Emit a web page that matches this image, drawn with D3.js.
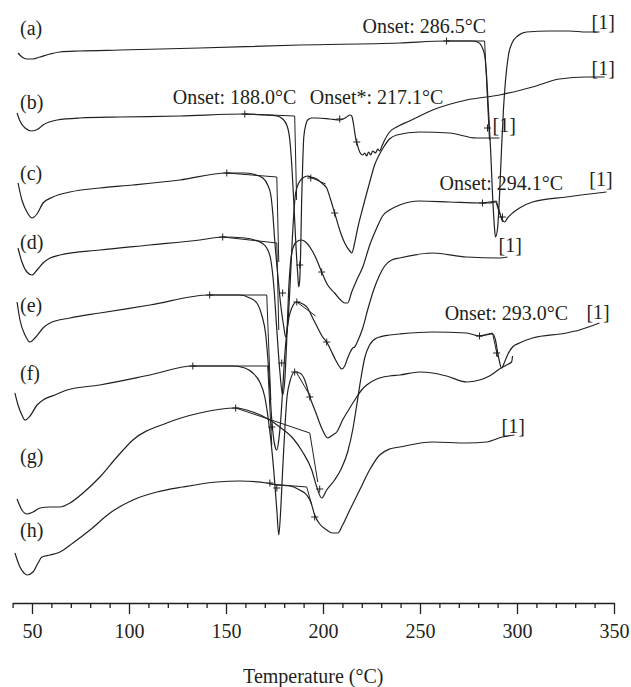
<!DOCTYPE html>
<html><head><meta charset="utf-8">
<script src="https://cdn.jsdelivr.net/npm/d3@7/dist/d3.min.js"></script>
<style>
body{margin:0;background:#fff}
svg{display:block}
text{font-family:"Liberation Serif","Times New Roman",serif;fill:#231f20}
</style>
</head><body>
<svg id="chart" width="631" height="687"></svg>
<script>
// ---- data: temperature (°C), heat flow (arbitrary, offset units) ----
const curveA = [[42.8,54.7],[44.8,54.3],[47.4,54.1],[50.5,54.1],[54.1,54.3],[59.3,54.6],[64.4,54.8],[74.7,54.9],[95.3,55.0],[136.5,55.2],[188.0,55.5],[239.5,55.7],[263.7,55.9],[277.1,55.9],[279.7,55.8],[281.7,55.4],[283.3,54.5],[284.3,52.5],[285.3,49.0],[286.4,45.0],[287.4,40.5],[288.4,37.2],[288.9,36.3],[290.0,37.2],[291.0,40.5],[292.0,45.0],[293.0,49.0],[294.1,52.0],[295.6,54.5],[297.7,55.8],[300.3,56.4],[304.9,56.8],[316.7,56.9],[327.0,56.9],[335.8,56.8],[342.5,56.8]];
const curveB = [[42.3,48.7],[43.8,47.9],[46.4,47.2],[50.0,46.9],[53.1,47.1],[55.7,47.5],[62.9,48.0],[74.7,48.2],[95.3,48.3],[126.2,48.4],[159.7,48.6],[170.0,48.5],[176.2,48.4],[179.2,48.1],[181.3,47.5],[182.9,46.0],[183.9,43.5],[184.9,40.0],[185.9,36.0],[187.0,32.5],[187.5,31.3],[188.0,32.0],[188.5,35.0],[189.0,40.0],[189.6,44.0],[190.1,46.3],[191.1,47.5],[192.1,48.0],[194.2,48.2],[196.8,48.2],[203.5,48.1],[208.6,48.0],[212.2,48.3],[213.8,48.5],[214.8,48.4],[215.8,47.5],[216.8,46.2],[217.9,45.4],[218.9,44.8],[220.5,44.5],[221.5,44.7],[222.5,44.4],[223.5,44.8],[224.6,44.5],[225.6,44.9],[227.1,44.7],[228.2,45.1],[229.2,44.9],[230.2,45.3],[231.8,46.0],[234.3,46.8],[238.0,47.3],[244.6,47.9],[256.5,49.0],[274.0,50.0],[291.0,50.5],[308.0,51.3],[321.9,52.1],[335.8,52.3],[345.1,52.3]];
const curveC = [[42.8,41.7],[44.8,40.0],[47.4,38.8],[50.0,38.2],[52.6,38.6],[55.7,39.7],[60.8,40.3],[69.6,40.8],[85.0,41.2],[102.0,41.5],[126.2,42.0],[150.4,42.7],[159.7,42.7],[163.8,42.6],[169.0,42.2],[171.5,41.5],[173.1,40.5],[174.1,38.7],[175.1,36.0],[176.7,32.5],[178.2,29.5],[179.8,27.3],[180.8,26.3],[181.8,27.5],[182.9,31.0],[183.9,35.0],[184.9,38.5],[185.9,40.7],[187.5,41.7],[189.6,42.2],[192.1,42.4],[193.7,42.3],[196.8,42.1],[199.3,41.7],[201.9,41.2],[204.0,40.0],[206.0,38.7],[208.6,37.0],[211.2,35.7],[213.8,34.9],[214.8,34.7],[216.3,35.7],[217.9,37.2],[220.5,39.2],[224.1,41.8],[226.6,43.5],[229.2,44.6],[231.3,45.3],[234.3,46.1],[238.0,46.5],[249.8,46.8],[265.2,46.7],[279.1,46.2],[291.0,46.2]];
const curveD = [[42.8,35.2],[44.8,33.8],[47.4,32.8],[50.0,32.5],[52.6,33.0],[55.7,33.7],[59.3,34.2],[64.4,34.5],[85.0,35.0],[110.8,35.5],[136.5,36.0],[148.3,36.3],[159.7,36.2],[164.8,36.0],[168.4,35.7],[171.0,35.2],[173.1,34.0],[174.6,31.5],[176.2,27.0],[177.7,23.0],[179.2,20.5],[180.3,22.0],[181.3,26.0],[182.3,31.0],[183.4,34.0],[184.9,35.4],[187.0,35.9],[189.0,36.0],[191.6,35.7],[194.2,35.0],[196.8,34.0],[199.3,32.8],[202.4,31.5],[206.0,30.7],[209.1,30.0],[211.2,29.7],[212.7,29.7],[214.8,30.8],[217.4,32.0],[220.5,33.3],[224.1,35.5],[227.7,37.2],[230.7,38.4],[234.3,39.0],[239.5,39.5],[249.8,39.9],[265.2,39.8],[282.2,39.7],[285.8,39.7],[288.9,39.8],[290.5,39.0],[292.0,38.2],[293.6,37.8],[295.1,38.2],[297.7,38.7],[301.3,39.2],[308.0,39.8],[325.5,40.3],[346.1,40.8]];
const curveE = [[42.3,29.8],[43.8,28.0],[46.4,26.5],[49.0,25.8],[51.5,26.2],[55.7,27.2],[59.3,27.7],[69.6,28.2],[85.0,28.7],[110.8,29.5],[141.6,30.5],[157.1,30.5],[162.3,30.2],[165.9,29.7],[168.4,28.5],[170.5,26.5],[172.0,23.0],[173.6,18.0],[175.1,15.5],[176.2,15.0],[177.2,16.0],[178.2,18.0],[179.2,21.0],[180.3,24.5],[181.8,27.5],[183.9,29.2],[186.5,29.8],[189.6,29.6],[192.1,29.2],[194.7,28.2],[197.3,27.2],[199.8,26.3],[201.9,25.8],[204.0,25.0],[206.5,24.0],[208.6,23.3],[209.6,23.1],[211.2,23.4],[212.7,24.2],[213.8,24.7],[215.3,25.2],[216.3,25.3],[217.9,25.9],[220.5,27.2],[223.0,29.0],[226.1,31.0],[229.2,32.5],[231.8,33.4],[235.4,34.0],[239.5,34.2],[256.5,34.7],[274.0,34.3],[291.0,34.2],[295.1,34.3]];
const curveF = [[41.2,20.7],[42.8,19.5],[44.8,18.5],[46.4,18.0],[49.0,18.4],[52.6,19.5],[55.7,20.0],[61.8,20.5],[68.0,21.0],[85.0,21.5],[110.8,22.5],[132.9,23.4],[153.5,23.4],[159.7,23.2],[163.8,22.7],[167.4,21.8],[170.0,20.3],[171.5,18.5],[173.1,16.0],[174.6,13.0],[176.2,9.0],[177.2,6.5],[178.2,9.0],[179.2,13.0],[180.3,17.0],[181.3,20.0],[182.9,21.8],[185.4,22.8],[188.0,22.7],[190.6,22.0],[193.2,20.3],[196.2,18.8],[199.3,17.2],[202.4,16.2],[205.0,16.5],[207.1,16.8],[210.1,18.0],[213.8,19.2],[217.4,20.3],[219.9,21.0],[222.5,21.5],[227.7,22.1],[234.3,22.4],[239.5,22.5],[249.8,22.8],[256.5,22.7],[263.7,22.4],[274.0,21.8],[280.7,22.0],[285.8,22.4],[291.0,23.1],[294.6,23.5],[297.2,23.8],[297.7,24.4]];
const curveG = [[42.3,10.1],[44.8,9.0],[47.4,8.6],[50.5,8.8],[54.1,9.2],[59.3,9.3],[64.4,9.3],[69.6,9.7],[76.3,10.7],[85.0,12.3],[93.8,14.3],[102.0,16.0],[119.5,17.7],[136.5,18.7],[155.0,19.2],[163.8,18.8],[172.6,18.0],[177.7,17.3],[184.4,16.2],[189.5,14.8],[194.2,13.0],[196.8,11.3],[199.3,10.2],[201.9,11.0],[206.0,12.0],[209.6,13.2],[212.7,14.8],[215.3,17.0],[217.4,19.5],[219.4,22.0],[221.5,24.2],[224.0,25.5],[227.7,26.2],[234.3,26.5],[239.5,26.6],[256.5,26.8],[274.0,26.7],[280.7,26.4],[287.4,26.6],[288.9,26.0],[290.0,24.8],[291.0,23.8],[292.0,23.2],[293.6,23.8],[295.1,24.5],[297.7,25.3],[301.3,25.7],[308.0,26.2],[325.5,26.7],[332.2,27.0],[342.5,27.7]];
const curveH = [[41.2,4.7],[43.8,3.3],[45.9,2.7],[47.4,2.5],[50.5,2.8],[53.1,3.7],[55.1,4.3],[59.3,4.5],[64.4,4.8],[71.1,5.7],[79.9,7.0],[90.2,8.7],[102.0,10.0],[114.4,10.8],[127.7,11.3],[145.3,11.8],[157.1,11.9],[171.0,11.7],[176.2,11.5],[182.9,11.4],[188.0,11.0],[191.6,10.5],[193.7,9.8],[195.7,8.5],[198.3,7.6],[201.9,7.0],[205.0,6.7],[207.6,6.7],[210.1,7.5],[213.8,9.0],[218.9,11.0],[224.0,13.0],[229.2,14.5],[234.3,15.1],[239.5,15.3],[256.5,15.8],[274.0,15.7],[284.3,15.8],[292.5,16.3],[298.7,16.5]];

// onset construction lines (baseline + tangent)
const tangentA = [[263.7,55.9],[283.3,55.9],[285.8,46.0]];
const tangentB = [[159.7,48.6],[185.4,48.4],[186.4,40.0]];
const tangentC = [[150.4,42.7],[176.2,42.3],[177.2,33.8]];
const tangentC2 = [[192.1,42.4],[201.4,41.6]];
const tangentD = [[148.3,36.3],[176.2,35.7],[177.2,27.0]];
const tangentD2 = [[282.2,39.7],[289.4,39.9],[292.5,37.8]];
const tangentE = [[141.6,30.5],[171.0,30.5],[173.1,20.0]];
const tangentE2 = [[186.5,29.8],[196.2,28.4]];
const tangentF = [[132.9,23.4],[171.5,23.4],[173.6,15.5]];
const tangentF2 = [[186.5,22.7],[193.7,20.3]];
const tangentG = [[155.0,19.2],[193.2,16.7],[197.3,11.8]];
const tangentG2 = [[280.7,26.4],[287.4,26.7],[290.0,24.3]];
const tangentH = [[172.6,11.6],[191.6,11.3],[194.2,9.5]];

// "+" limit markers
const markersA = [[263.7,55.9],[284.8,47.2]];
const markersB = [[159.7,48.6],[188.0,33.5],[208.6,48.1],[217.4,45.8]];
const markersC = [[150.4,42.7],[193.7,42.2],[206.0,38.7],[179.2,30.7]];
const markersD = [[148.3,36.3],[199.3,32.8],[282.2,39.7],[292.5,38.3]];
const markersE = [[141.6,30.5],[186.5,29.8],[201.9,25.8],[178.7,23.7]];
const markersF = [[132.9,23.4],[185.4,22.8],[193.2,20.3],[173.6,17.3]];
const markersG = [[155.0,19.2],[198.3,11.1],[280.7,26.4],[289.5,24.7]];
const markersH = [[172.6,11.7],[176.2,11.2],[195.7,8.3]];

const curveLabels = ["(a)","(b)","(c)","(d)","(e)","(f)","(g)","(h)"];
const curveLabelValues = [56.5,49.1,42.0,35.1,28.8,22.0,13.7,6.3];
const annotations = [
  {text:"Onset: 286.5°C", T:220.4, v:56.7},
  {text:"[1]", T:338.4, v:57.1},
  {text:"Onset: 188.0°C", T:122.6, v:49.6},
  {text:"Onset*: 217.1°C", T:193.2, v:49.6},
  {text:"[1]", T:338.4, v:52.5},
  {text:"[1]", T:287.4, v:46.8},
  {text:"Onset: 294.1°C", T:260.1, v:41.0},
  {text:"[1]", T:337.3, v:41.4},
  {text:"[1]", T:290.5, v:34.8},
  {text:"Onset: 293.0°C", T:262.7, v:28.0},
  {text:"[1]", T:335.8, v:28.1},
  {text:"[1]", T:292.0, v:16.7}
];
const majorTicks = [50,100,150,200,250,300,350];
const minorTicks = [40,60,70,80,90,110,120,130,140,160,170,180,190,210,220,230,240,260,270,280,290,310,320,330,340];
const xTitle = "Temperature (°C)";

// ---- drawing ----
const ink = "#231f20";
const svg = d3.select("#chart");
const x = d3.scaleLinear().domain([40,350]).range([12.6,614]);
const y = d3.scaleLinear().domain([0,60]).range([600,0]);

const smooth = d3.line().x(d=>x(d[0])).y(d=>y(d[1])).curve(d3.curveMonotoneX);
const straight = d3.line().x(d=>x(d[0])).y(d=>y(d[1]));

const curves = [curveA,curveB,curveC,curveD,curveE,curveF,curveG,curveH];
const tangents = [tangentA,tangentB,tangentC,tangentC2,tangentD,tangentD2,tangentE,tangentE2,tangentF,tangentF2,tangentG,tangentG2,tangentH];
const markers = [].concat(markersA,markersB,markersC,markersD,markersE,markersF,markersG,markersH);

svg.append("g").selectAll("path").data(tangents).join("path")
  .attr("d", straight).attr("fill","none").attr("stroke",ink).attr("stroke-width",1);

svg.append("g").selectAll("path").data(curves).join("path")
  .attr("d", smooth).attr("fill","none").attr("stroke",ink).attr("stroke-width",1.2)
  .attr("stroke-linejoin","round");

svg.append("g").selectAll("path").data(markers).join("path")
  .attr("d", d => { const cx=x(d[0]), cy=y(d[1]); return `M${cx-3.5},${cy}H${cx+3.5}M${cx},${cy-3.5}V${cy+3.5}`; })
  .attr("stroke",ink).attr("stroke-width",1);

// curve labels
svg.append("g").selectAll("text").data(curveLabels).join("text")
  .attr("x", x(43.8)).attr("y", (d,i)=>y(curveLabelValues[i]))
  .attr("font-size",20).text(d=>d);

svg.append("g").selectAll("text").data(annotations).join("text")
  .attr("x", d=>x(d.T)).attr("y", d=>y(d.v)).attr("font-size",20).text(d=>d.text);

// axis
const axisY = 603;
const gMinor = svg.append("g").attr("transform",`translate(0,${axisY})`)
  .call(d3.axisBottom(x).tickValues(minorTicks).tickSize(5).tickSizeOuter(0).tickFormat(""));
const gMajor = svg.append("g").attr("transform",`translate(0,${axisY})`)
  .call(d3.axisBottom(x).tickValues(majorTicks).tickSize(11).tickSizeOuter(0).tickPadding(10).tickFormat(d3.format("d")));
[gMinor,gMajor].forEach(g=>{
  g.selectAll("path,line").attr("stroke",ink).attr("stroke-width",1.3);
  g.selectAll("text").attr("font-size",20).attr("font-family",'"Liberation Serif","Times New Roman",serif').attr("fill",ink);
});
gMinor.select(".domain").remove();

svg.append("text").attr("x",(x.range()[0]+x.range()[1])/2).attr("y",683)
  .attr("text-anchor","middle").attr("font-size",20).text(xTitle);
</script>
</body></html>
